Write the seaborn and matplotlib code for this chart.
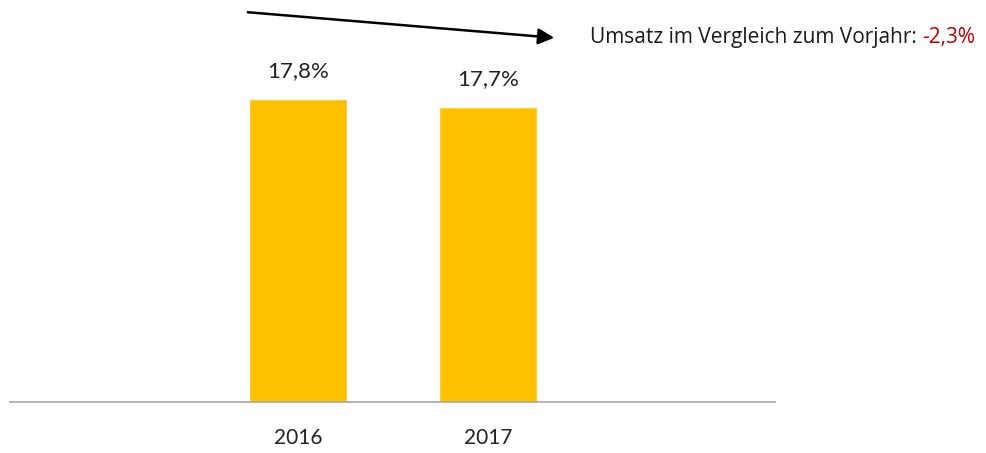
import pandas as pd
import matplotlib.pyplot as plt
import seaborn as sns

# data
years = ['2016', '2017']
share = [17.8, 17.7]
share_labels = ['17,8%', '17,7%']
note_text = 'Umsatz im Vergleich zum Vorjahr: '
note_value = '-2,3%'

df = pd.DataFrame({'Jahr': years, 'Anteil': share})

sns.set_style('white')
plt.rcParams['font.family'] = ['Open Sans', 'DejaVu Sans']

fig = plt.figure(figsize=(9.87, 4.53), dpi=100)
ax = fig.add_axes([10 / 987, 51 / 453, 765 / 987, 402 / 453])

sns.barplot(data=df, x='Jahr', y='Anteil', color='#FFC000', saturation=1,
            width=0.516, ax=ax)

# truncated value axis like the original
ax.set_ylim(14.3, 18.94)
ax.set_xlim(-1.516, 2.508)

for i, (v, lab) in enumerate(zip(share, share_labels)):
    ax.annotate(lab, (i, v), xytext=(0, 13), textcoords='offset points',
                ha='center', va='bottom', fontsize=16, color='#222222',
                family=['Lato', 'DejaVu Sans'])

for s in ['top', 'right', 'left']:
    ax.spines[s].set_visible(False)
ax.spines['bottom'].set_color('#a6a6a6')
ax.spines['bottom'].set_linewidth(1.2)
ax.set_yticks([])
ax.set_xlabel('')
ax.set_ylabel('')
ax.tick_params(axis='x', length=0, pad=19, labelsize=15, labelcolor='#222222')
for t in ax.get_xticklabels():
    t.set_family(['Lato', 'DejaVu Sans'])

# trend arrow and note
fig.patches.append(plt.matplotlib.patches.FancyArrowPatch(
    (245 / 987, 1 - 12 / 453), (557 / 987, 1 - 38 / 453),
    transform=fig.transFigure, arrowstyle='-|>', mutation_scale=24,
    color='black', linewidth=1.8))

t1 = fig.text(590 / 987, 1 - 37 / 453, note_text, fontsize=15,
              color='#1a1a1a', va='center', ha='left')
fig.canvas.draw()
bb = t1.get_window_extent()
fig.text(bb.x1 / 987, 1 - 37 / 453, note_value, fontsize=15,
         color='#C00000', va='center', ha='left')

plt.savefig('out.png', dpi=100)
